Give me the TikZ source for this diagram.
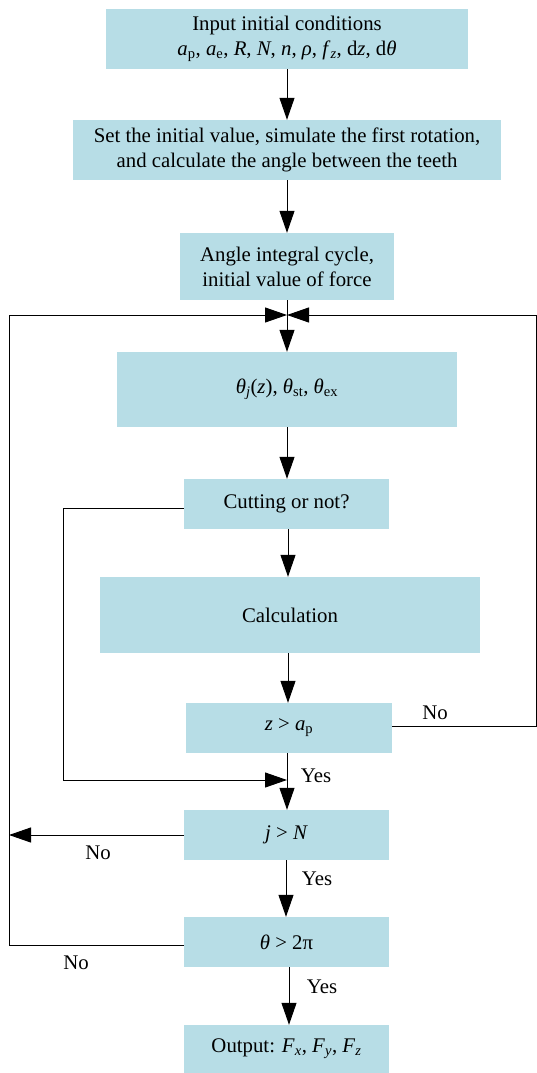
\documentclass[tikz,border=0pt]{standalone}
\usepackage{fontspec}
\setmainfont{Liberation Serif}
\usetikzlibrary{arrows.meta}
\definecolor{boxfill}{RGB}{183,221,230}
\newcommand{\iv}[1]{\textit{#1}}
\begin{document}
\begin{tikzpicture}[x=1pt,y=-1pt,
  box/.style={fill=boxfill, draw=none, inner sep=0pt, align=center, font=\fontsize{20.8}{25}\selectfont},
  lbl/.style={inner sep=0pt, font=\fontsize{20.8}{24}\selectfont},
  conn/.style={line width=1pt, -{Triangle[length=22pt,width=15pt]}},
  plain/.style={line width=1pt}]
\useasboundingbox (0,0) rectangle (537,1073);
\node[box, minimum width=362pt, minimum height=60pt] (b1) at (287,39)
  {Input initial conditions\\ \iv{a}\textsubscript{p}, \iv{a}\textsubscript{e}, \iv{R}, \iv{N}, \iv{n}, \iv{ρ}, \iv{f}\textsubscript{\iv{z}}, d\iv{z}, d\iv{θ}};
\node[box, minimum width=428pt, minimum height=60pt] (b2) at (287,150)
  {Set the initial value, simulate the first rotation,\\ and calculate the angle between the teeth};
\node[box, minimum width=214pt, minimum height=67pt] (b3) at (287,266.5)
  {Angle integral cycle,\\ initial value of force};
\node[box, minimum width=340pt, minimum height=75pt] (b4) at (287,389.5)
  {\iv{θ}\textsubscript{\iv{j}}(\iv{z}), \iv{θ}\textsubscript{st}, \iv{θ}\textsubscript{ex}};
\node[box, minimum width=205pt, minimum height=50pt] (b5) at (286.5,504)
  {Cutting or not?};
\node[box, minimum width=380pt, minimum height=76pt] (b6) at (290,615)
  {Calculation};
\node[box, minimum width=206pt, minimum height=50pt] (b7) at (289,728)
  {\iv{z} {>} \iv{a}\textsubscript{p}};
\node[box, minimum width=205pt, minimum height=50pt] (b8) at (286.5,835)
  {\iv{j} {>} \iv{N}};
\node[box, minimum width=205pt, minimum height=50pt] (b9) at (286.5,942)
  {\iv{θ} {>} 2π};
\node[box, minimum width=205pt, minimum height=48pt] (b10) at (286.5,1049)
  {Output: \iv{F}\textsubscript{\iv{x}}, \iv{F}\textsubscript{\iv{y}}, \iv{F}\textsubscript{\iv{z}}};
% junctions
\coordinate (j1) at (287,315);
\coordinate (j2) at (287,780);
\coordinate (rt) at (536.5,726);
\coordinate (rtop) at (536.5,315);
\coordinate (lft) at (9,835);
\coordinate (lbot) at (9,945);
\coordinate (ltop) at (9,315);
\coordinate (cl) at (63,508);
\coordinate (clb) at (63,780);
% main flow
\draw[conn] (b1.south -| 287,0) -- (b2.north -| 287,0);
\draw[conn] (b2.south -| 287,0) -- (b3.north -| 287,0);
\draw[plain] (b3.south -| 287,0) -- (j1);
\draw[conn] (j1) -- (b4.north -| 287,0);
\draw[conn] (b4.south -| 287,0) -- (b5.north -| 287,0);
\draw[conn] (b5.south -| 288,0) -- (b6.north -| 288,0);
\draw[conn] (b6.south -| 288,0) -- (b7.north -| 288,0);
\draw[conn] (b7.south -| 287,0) -- (b8.north -| 287,0);
\draw[conn] (b8.south -| 286,0) -- (b9.north -| 286,0);
\draw[conn] (b9.south -| 289,0) -- (b10.north -| 289,0);
% loops
\draw[conn] (b7.east |- rt) -- (rt) -- (rtop) -- (j1);
\draw[conn] (b9.west |- lbot) -- (lbot) -- (ltop) -- (j1);
\draw[conn] (b8.west) -- (lft);
\draw[conn] (b5.west |- cl) -- (cl) -- (clb) -- (j2);
% labels
\node[lbl] (n1) at (435,713) {No};
\node[lbl] (y1) at (316,776) {Yes};
\node[lbl] (n2) at (98,853) {No};
\node[lbl] (y2) at (317,879) {Yes};
\node[lbl] (n3) at (76,963) {No};
\node[lbl] (y3) at (322,987) {Yes};
\end{tikzpicture}
\end{document}
